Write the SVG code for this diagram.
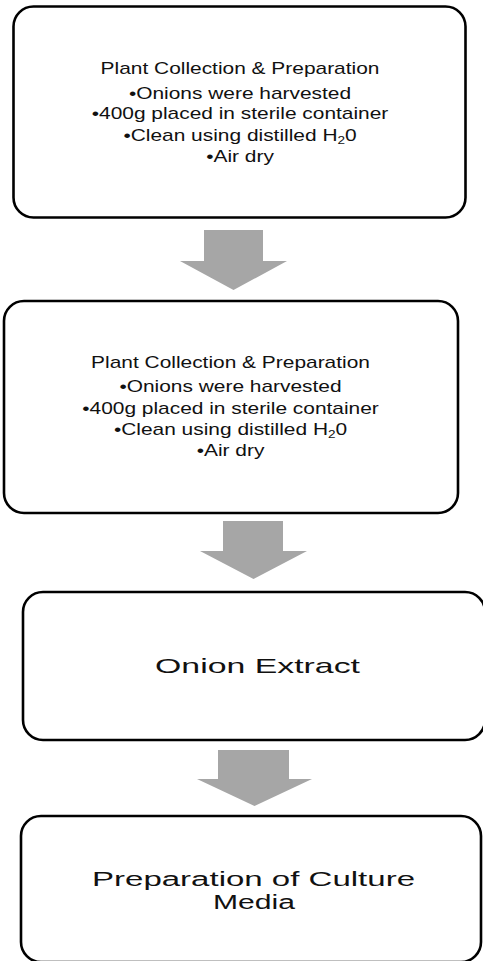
<svg xmlns="http://www.w3.org/2000/svg" width="483" height="961" viewBox="0 0 483 961">
<style>
.box{fill:#fff;stroke:#000;stroke-width:2.6}
.arr{fill:#a6a6a6;stroke:none}
.t{font-family:"Liberation Sans",Arial,sans-serif;fill:#111;text-anchor:middle}
.s17{font-size:17px}
.s21{font-size:21px}
.s20{font-size:20px}
</style>
<rect width="483" height="961" fill="#fff"/>
<g id="connectors">
<polygon class="arr" points="204,230 263,230 263,261 287,261 233.5,290 180,261 204,261"/>
<polygon class="arr" points="223,521 283,521 283,551 307,551 253.5,579 200,551 223,551"/>
<polygon class="arr" points="218,750 289,750 289,779 312,779 254.5,806 197,779 218,779"/>
</g>
<g id="node1">
<rect class="box" x="13.5" y="6.5" width="452" height="211" rx="20"/>
<g transform="translate(240,0) scale(1.23,1)">
<text class="t s17" x="0" y="74">Plant Collection &amp; Preparation</text>
<text class="t s17" x="0" y="99">•Onions were harvested</text>
<text class="t s17" x="0" y="119.5">•400g placed in sterile container</text>
<text class="t s17" x="0" y="141">•Clean using distilled H<tspan font-size="11" dy="3">2</tspan><tspan dy="-3">0</tspan></text>
<text class="t s17" x="0" y="162.5">•Air dry</text>
</g>
</g>
<g id="node2">
<rect class="box" x="4" y="301" width="454" height="212" rx="20"/>
<g transform="translate(230.5,0) scale(1.23,1)">
<text class="t s17" x="0" y="368">Plant Collection &amp; Preparation</text>
<text class="t s17" x="0" y="392.5">•Onions were harvested</text>
<text class="t s17" x="0" y="414">•400g placed in sterile container</text>
<text class="t s17" x="0" y="435">•Clean using distilled H<tspan font-size="11" dy="3">2</tspan><tspan dy="-3">0</tspan></text>
<text class="t s17" x="0" y="456">•Air dry</text>
</g>
</g>
<g id="node3">
<rect class="box" x="23" y="592" width="462" height="148" rx="20"/>
<text class="t s21" x="257.5" y="673" textLength="205" lengthAdjust="spacingAndGlyphs">Onion Extract</text>
</g>
<g id="node4">
<rect class="box" x="21" y="816" width="460" height="146" rx="20"/>
<text class="t s20" x="253.5" y="886" textLength="323" lengthAdjust="spacingAndGlyphs">Preparation of Culture</text>
<text class="t s20" x="254" y="909" textLength="82" lengthAdjust="spacingAndGlyphs">Media</text>
</g>
</svg>
